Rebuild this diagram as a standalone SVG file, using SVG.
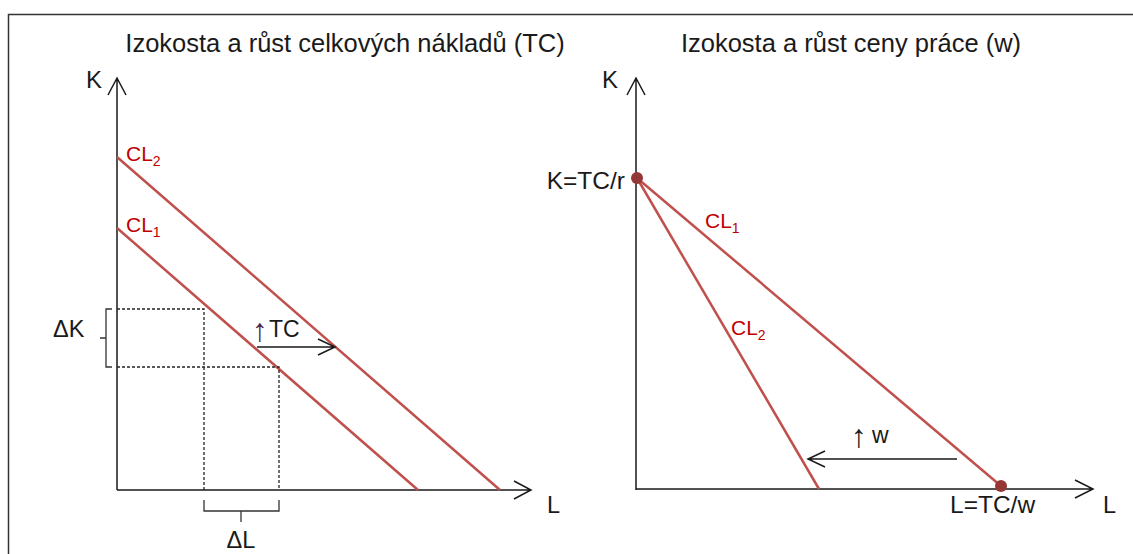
<svg xmlns="http://www.w3.org/2000/svg" width="1133" height="554" viewBox="0 0 1133 554">
<style>
text{font-family:"Liberation Sans",Arial,sans-serif;font-size:23.5px;fill:#1a1a1a}
.t{font-size:25.5px}
.k{font-size:24px}
.pt{font-size:24.5px}
.up{font-size:32px}
.red{fill:#C00000;font-size:21px}
.sub{font-size:14px}
.ax{stroke:#1a1a1a;stroke-width:1.5;fill:none}
.cl{stroke:#C0504D;stroke-width:2.5;fill:none}
.dash{stroke:#222;stroke-width:1.3;stroke-dasharray:3,2;fill:none}
.br{stroke:#333;stroke-width:1.3;fill:none}
.dot{fill:#953735}
</style>
<rect x="8.5" y="14.5" width="1140" height="560" fill="#fff" stroke="#333" stroke-width="1.5"/>
<g id="left-chart">
<text class="t" x="345" y="52" text-anchor="middle">Izokosta a růst celkových nákladů (TC)</text>
<text class="k" x="86" y="88">K</text>
<text x="547" y="513">L</text>
</g>
<g id="connectors">
<path class="ax" d="M117,490 V78 M108,95 L117,78 L126,95"/>
<path class="ax" d="M117,490 H531 M514,481 L531,490 L514,499"/>
<path class="cl" d="M117,157 L500,490"/>
<path class="cl" d="M117,228 L418,490"/>
<path class="dash" d="M117,309 H204 V490 M117,367 H279 V490"/>
<path class="br" d="M112,309 H106 V367 H112 M106,338 H100"/>
<path class="br" d="M204,500 V511 H279 V500 M241,511 V522"/>
<path class="ax" d="M257,347 H335 M318,339 L335,347 L318,355"/>
<path class="ax" d="M636,490 V78 M627,95 L636,78 L645,95"/>
<path class="ax" d="M636,489 H1093 M1075,480 L1093,489 L1075,498"/>
<path class="cl" d="M637,178 L1001,486"/>
<path class="cl" d="M637,178 L819,489"/>
<path class="ax" d="M957,459 H808 M825,451 L808,459 L825,467"/>
</g>
<g id="left-labels">
<text class="red" x="126" y="161">CL<tspan class="sub" dy="5">2</tspan></text>
<text class="red" x="126" y="232">CL<tspan class="sub" dy="5">1</tspan></text>
<text x="53" y="337">ΔK</text>
<text x="241" y="548" text-anchor="middle">ΔL</text>
<text x="252" y="341"><tspan class="up" fill="#4b1f4b">↑</tspan><tspan x="269" y="337" font-size="23">TC</tspan></text>
</g>
<g id="right-chart">
<text class="t" x="851" y="52" text-anchor="middle">Izokosta a růst ceny práce (w)</text>
<text class="k" x="602" y="88">K</text>
<text x="1103" y="513">L</text>
</g>
<g id="point-K">
<circle class="dot" cx="637" cy="178" r="6"/>
<text class="pt" x="625" y="189" text-anchor="end">K=TC/r</text>
</g>
<g id="point-L">
<circle class="dot" cx="1001" cy="486" r="6"/>
<text class="pt" x="950" y="513">L=TC/w</text>
</g>
<g id="right-labels">
<text class="red" x="705" y="228">CL<tspan class="sub" dy="5">1</tspan></text>
<text class="red" x="731" y="335">CL<tspan class="sub" dy="5">2</tspan></text>
<text x="851" y="447"><tspan class="up">↑</tspan><tspan x="872" y="443" font-size="23">w</tspan></text>
</g>
</svg>
